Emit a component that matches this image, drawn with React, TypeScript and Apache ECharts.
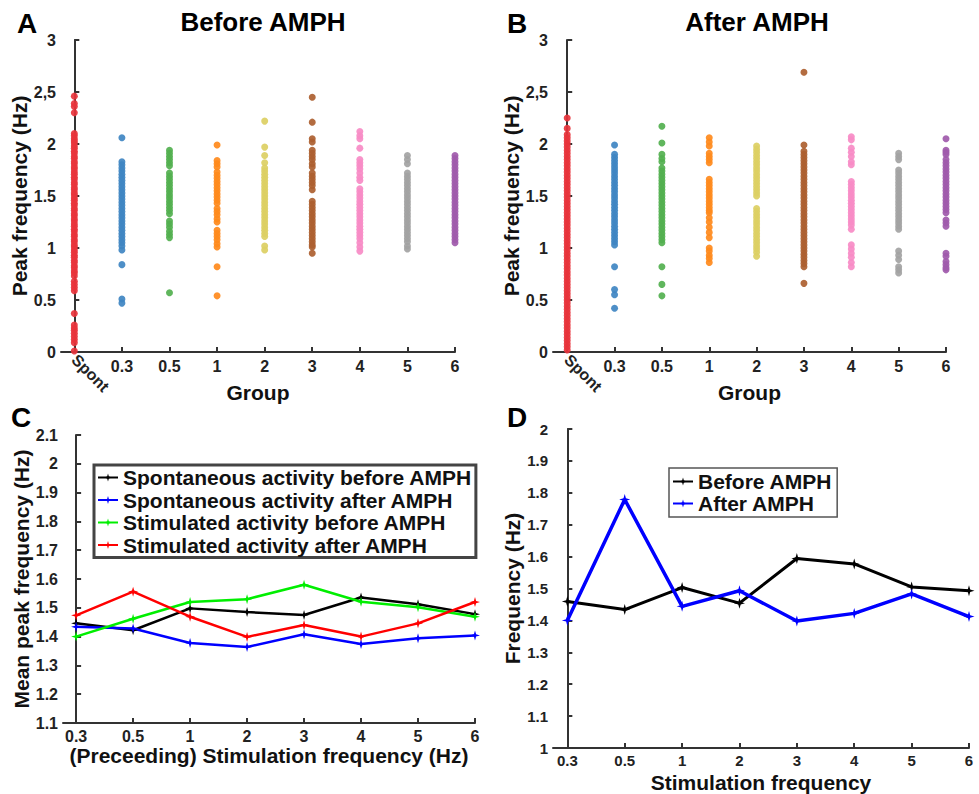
import React, { useEffect, useRef } from "react";
import * as echarts from "echarts";

// ---- Panel A / B (scatter) ----
const GROUPS = ["Spont", "0.3", "0.5", "1", "2", "3", "4", "5", "6"];
const GROUP_COLORS = ["#e8343c", "#3f86c2", "#52b04f", "#ff8a1c", "#dccf63", "#ad5f30", "#f78bc6", "#a3a3a3", "#a05aab"];

const A_SPONT = [2.46, 2.39, 2.36, 2.30, 2.10, 2.08, 2.05, 2.03, 2.01, 1.98, 1.96, 1.93, 1.91, 1.88, 1.86, 1.83, 1.81, 1.78, 1.76, 1.73, 1.71, 1.68, 1.66, 1.63, 1.61, 1.58, 1.56, 1.53, 1.51, 1.48, 1.46, 1.43, 1.41, 1.38, 1.36, 1.33, 1.31, 1.28, 1.26, 1.23, 1.21, 1.18, 1.16, 1.13, 1.11, 1.08, 1.06, 1.03, 1.01, 0.98, 0.96, 0.93, 0.91, 0.88, 0.86, 0.83, 0.81, 0.78, 0.76, 0.73, 0.68, 0.65, 0.62, 0.59, 0.37, 0.26, 0.23, 0.21, 0.18, 0.15, 0.12, 0.09, 0.01];
const A_03 = [2.06, 1.83, 1.80, 1.77, 1.74, 1.71, 1.68, 1.65, 1.62, 1.59, 1.56, 1.53, 1.50, 1.47, 1.44, 1.41, 1.38, 1.35, 1.32, 1.29, 1.26, 1.23, 1.20, 1.17, 1.14, 1.11, 1.08, 1.05, 1.02, 0.98, 0.84, 0.51, 0.47];
const A_05 = [1.94, 1.91, 1.88, 1.85, 1.82, 1.79, 1.72, 1.69, 1.66, 1.63, 1.60, 1.57, 1.54, 1.51, 1.48, 1.45, 1.42, 1.39, 1.36, 1.33, 1.26, 1.23, 1.20, 1.16, 1.13, 1.10, 0.57];
const A_1 = [1.99, 1.84, 1.81, 1.78, 1.73, 1.70, 1.67, 1.64, 1.61, 1.58, 1.55, 1.52, 1.49, 1.46, 1.43, 1.38, 1.35, 1.32, 1.28, 1.25, 1.17, 1.14, 1.11, 1.08, 1.04, 1.01, 0.82, 0.54];
const A_2 = [2.22, 1.97, 1.89, 1.82, 1.77, 1.74, 1.71, 1.68, 1.65, 1.62, 1.59, 1.56, 1.53, 1.50, 1.47, 1.44, 1.41, 1.38, 1.35, 1.32, 1.29, 1.26, 1.23, 1.20, 1.17, 1.14, 1.11, 1.02, 0.98];
const A_3 = [2.45, 2.21, 2.05, 2.02, 1.94, 1.91, 1.88, 1.85, 1.81, 1.78, 1.72, 1.69, 1.66, 1.63, 1.60, 1.56, 1.45, 1.42, 1.39, 1.36, 1.33, 1.30, 1.27, 1.24, 1.21, 1.18, 1.15, 1.12, 1.09, 1.06, 1.03, 1.01, 0.95];
const A_4 = [2.12, 2.08, 2.05, 1.96, 1.85, 1.82, 1.79, 1.76, 1.72, 1.68, 1.65, 1.57, 1.54, 1.51, 1.48, 1.45, 1.42, 1.39, 1.36, 1.33, 1.30, 1.27, 1.24, 1.21, 1.18, 1.15, 1.12, 1.09, 1.05, 1.01, 0.97];
const A_5 = [1.89, 1.85, 1.81, 1.72, 1.69, 1.66, 1.63, 1.60, 1.57, 1.54, 1.51, 1.48, 1.45, 1.42, 1.39, 1.36, 1.33, 1.30, 1.27, 1.24, 1.21, 1.18, 1.15, 1.12, 1.09, 1.06, 1.02, 0.99];
const A_6 = [1.89, 1.86, 1.83, 1.80, 1.77, 1.74, 1.71, 1.68, 1.65, 1.62, 1.59, 1.56, 1.53, 1.50, 1.47, 1.44, 1.41, 1.38, 1.35, 1.32, 1.29, 1.26, 1.23, 1.20, 1.17, 1.14, 1.11, 1.08, 1.05];

const B_SPONT = [2.25, 2.15, 2.09, 2.06, 2.03, 2.00, 1.97, 1.94, 1.91, 1.88, 1.85, 1.82, 1.79, 1.76, 1.73, 1.70, 1.67, 1.64, 1.61, 1.58, 1.55, 1.52, 1.49, 1.46, 1.43, 1.40, 1.37, 1.34, 1.31, 1.28, 1.25, 1.22, 1.19, 1.16, 1.13, 1.10, 1.07, 1.04, 1.01, 0.98, 0.95, 0.92, 0.89, 0.86, 0.83, 0.80, 0.77, 0.74, 0.71, 0.68, 0.65, 0.62, 0.59, 0.56, 0.53, 0.50, 0.47, 0.44, 0.41, 0.38, 0.35, 0.32, 0.29, 0.26, 0.23, 0.20, 0.17, 0.14, 0.11, 0.08, 0.05, 0.02];
const B_03 = [1.99, 1.90, 1.87, 1.84, 1.81, 1.78, 1.75, 1.72, 1.69, 1.66, 1.63, 1.60, 1.57, 1.54, 1.51, 1.48, 1.45, 1.42, 1.39, 1.36, 1.33, 1.30, 1.27, 1.24, 1.21, 1.18, 1.15, 1.12, 1.09, 1.06, 1.03, 0.82, 0.60, 0.55, 0.42];
const B_05 = [2.17, 2.01, 1.90, 1.86, 1.83, 1.77, 1.74, 1.71, 1.68, 1.65, 1.62, 1.59, 1.56, 1.53, 1.50, 1.47, 1.44, 1.41, 1.38, 1.35, 1.32, 1.29, 1.26, 1.23, 1.20, 1.17, 1.14, 1.11, 1.08, 1.05, 0.82, 0.65, 0.54];
const B_1 = [2.06, 2.02, 1.98, 1.91, 1.88, 1.85, 1.82, 1.66, 1.63, 1.60, 1.57, 1.54, 1.51, 1.48, 1.45, 1.42, 1.39, 1.36, 1.34, 1.29, 1.25, 1.20, 1.15, 1.10, 1.00, 0.97, 0.93, 0.90, 0.86];
const B_2 = [1.98, 1.95, 1.92, 1.89, 1.86, 1.83, 1.80, 1.77, 1.74, 1.71, 1.68, 1.65, 1.62, 1.59, 1.56, 1.53, 1.50, 1.38, 1.35, 1.32, 1.29, 1.26, 1.23, 1.20, 1.17, 1.14, 1.11, 1.08, 1.05, 1.02, 0.99, 0.96, 0.92];
const B_3 = [2.69, 1.99, 1.93, 1.90, 1.87, 1.84, 1.81, 1.78, 1.75, 1.72, 1.69, 1.66, 1.63, 1.60, 1.57, 1.54, 1.51, 1.48, 1.45, 1.42, 1.39, 1.36, 1.33, 1.30, 1.27, 1.24, 1.21, 1.18, 1.15, 1.12, 1.09, 1.06, 1.03, 1.00, 0.97, 0.94, 0.91, 0.88, 0.85, 0.82, 0.66];
const B_4 = [2.07, 2.04, 1.96, 1.92, 1.88, 1.83, 1.80, 1.64, 1.61, 1.58, 1.55, 1.52, 1.49, 1.46, 1.43, 1.40, 1.37, 1.34, 1.31, 1.28, 1.25, 1.22, 1.18, 1.03, 0.99, 0.95, 0.91, 0.86, 0.82];
const B_5 = [1.91, 1.88, 1.85, 1.75, 1.72, 1.69, 1.66, 1.63, 1.60, 1.57, 1.54, 1.51, 1.48, 1.45, 1.42, 1.39, 1.36, 1.33, 1.30, 1.27, 1.24, 1.21, 1.18, 0.97, 0.93, 0.89, 0.82, 0.79, 0.76];
const B_6 = [2.05, 1.94, 1.92, 1.90, 1.85, 1.82, 1.79, 1.76, 1.73, 1.70, 1.67, 1.64, 1.61, 1.58, 1.55, 1.52, 1.49, 1.46, 1.43, 1.40, 1.37, 1.34, 1.27, 1.24, 1.21, 0.95, 0.92, 0.87, 0.84, 0.81, 0.79];

const A_DATA = [A_SPONT, A_03, A_05, A_1, A_2, A_3, A_4, A_5, A_6];
const B_DATA = [B_SPONT, B_03, B_05, B_1, B_2, B_3, B_4, B_5, B_6];

// ---- Panel C ----
const STIM = ["0.3", "0.5", "1", "2", "3", "4", "5", "6"];
const C_NAMES = [
  "Spontaneous activity before AMPH",
  "Spontaneous activity after AMPH",
  "Stimulated activity before AMPH",
  "Stimulated activity after AMPH",
];
const C_COLORS = ["#000000", "#0000ff", "#00ee00", "#ff0000"];
const C_SPONT_BEFORE = [1.446, 1.422, 1.498, 1.485, 1.475, 1.536, 1.512, 1.478];
const C_SPONT_AFTER = [1.434, 1.428, 1.378, 1.364, 1.408, 1.374, 1.394, 1.404];
const C_STIM_BEFORE = [1.400, 1.462, 1.520, 1.530, 1.580, 1.521, 1.502, 1.469];
const C_STIM_AFTER = [1.474, 1.556, 1.469, 1.399, 1.440, 1.400, 1.446, 1.520];
const C_DATA = [C_SPONT_BEFORE, C_SPONT_AFTER, C_STIM_BEFORE, C_STIM_AFTER];

// ---- Panel D ----
const D_NAMES = ["Before AMPH", "After AMPH"];
const D_COLORS = ["#000000", "#0000ff"];
const D_BEFORE = [1.459, 1.434, 1.503, 1.454, 1.594, 1.577, 1.505, 1.493];
const D_AFTER = [1.400, 1.779, 1.444, 1.493, 1.398, 1.422, 1.483, 1.412];
const D_DATA = [D_BEFORE, D_AFTER];

const FONT = "Arial, 'Liberation Sans', Helvetica, sans-serif";
const AXIS_COLOR = "#333";
const STAR = "path://M5,0 L6.1,3.9 L10,5 L6.1,6.1 L5,10 L3.9,6.1 L0,5 L3.9,3.9 Z";

const labelStyle = { fontFamily: FONT, fontWeight: "bold", fontSize: 16, color: "#222" };
const nameStyle = { fontFamily: FONT, fontWeight: "bold", fontSize: 21, color: "#111" };

function round1(v: number) {
  return String(Math.round(v * 100) / 100);
}

export default function App() {
  const ref = useRef<HTMLDivElement>(null);
  useEffect(() => {
    if (!ref.current) return;
    const chart = echarts.init(ref.current, undefined, { renderer: "svg" });

    const grids = [
      { left: 61, top: 40, width: 394, height: 312 },
      { left: 553, top: 40, width: 393, height: 312 },
      { left: 63, top: 435, width: 412, height: 288 },
      { left: 553, top: 429, width: 416, height: 323 },
    ];

    const baseAxisLine = { show: true, lineStyle: { color: AXIS_COLOR, width: 2 } };
    const baseTick = { show: true, inside: true, length: 5, lineStyle: { color: AXIS_COLOR, width: 2 } };

    const groupIdx = GROUPS.map((_, i) => i);
    const stimIdx = STIM.map((_, i) => i);

    const abX = (gi: number, min: number) => [
      {
        type: "value", gridIndex: gi, position: "bottom", min, max: 8,
        axisLine: baseAxisLine,
        axisTick: { ...baseTick, customValues: groupIdx },
        splitLine: { show: false },
        axisLabel: { ...labelStyle, margin: 6, customValues: groupIdx.slice(1), formatter: (v: number) => GROUPS[Math.round(v)] },
        name: "Group", nameLocation: "middle", nameGap: 30, nameTextStyle: nameStyle,
      },
      {
        type: "value", gridIndex: gi, position: "bottom", min, max: 8,
        axisLine: { show: false }, axisTick: { show: false }, splitLine: { show: false },
        axisLabel: { ...labelStyle, margin: 5, rotate: -45, customValues: [0], formatter: (v: number) => GROUPS[Math.round(v)] },
      },
    ];

    const lineX = (gi: number, min: number, name: string, gap: number, fs: number) => ({
      type: "value", gridIndex: gi, position: "bottom", min, max: 7,
      axisLine: baseAxisLine,
      axisTick: { ...baseTick, customValues: stimIdx },
      splitLine: { show: false },
      axisLabel: { ...labelStyle, fontSize: fs, margin: 5, customValues: stimIdx, formatter: (v: number) => STIM[Math.round(v)] },
      name, nameLocation: "middle", nameGap: gap, nameTextStyle: nameStyle,
    });

    const yAx = (gi: number, min: number, max: number, interval: number, name: string, gap: number, fs: number, fmt: (v: number) => string) => ({
      type: "value", gridIndex: gi, min, max, interval,
      axisLine: baseAxisLine, axisTick: baseTick, splitLine: { show: false },
      axisLabel: { ...labelStyle, fontSize: fs, margin: 5, formatter: fmt },
      name, nameLocation: "middle", nameGap: gap, nameRotate: 90, nameTextStyle: nameStyle,
    });

    const abFmt = (v: number) => {
      const r = Math.round(v * 10) / 10;
      return r === 2.5 ? "2,5" : String(r);
    };

    const series: any[] = [];
    [A_DATA, B_DATA].forEach((panel, p) => {
      panel.forEach((vals, i) => {
        series.push({
          type: "scatter",
          name: (p === 0 ? "A " : "B ") + GROUPS[i],
          xAxisIndex: p * 2,
          yAxisIndex: p,
          symbolSize: 7,
          itemStyle: { color: GROUP_COLORS[i], opacity: 0.92 },
          data: vals.map((v) => [i, v]),
          z: 3,
        });
      });
    });
    C_DATA.forEach((vals, i) => {
      series.push({
        type: "line", name: C_NAMES[i], xAxisIndex: 4, yAxisIndex: 2,
        symbol: STAR, symbolSize: 10, showSymbol: true,
        lineStyle: { color: C_COLORS[i], width: 2.5 },
        itemStyle: { color: C_COLORS[i] },
        data: vals.map((v, k) => [k, v]),
      });
    });
    D_DATA.forEach((vals, i) => {
      series.push({
        type: "line", name: D_NAMES[i], xAxisIndex: 5, yAxisIndex: 3,
        symbol: STAR, symbolSize: 11, showSymbol: true,
        lineStyle: { color: D_COLORS[i], width: i === 1 ? 3.5 : 3 },
        itemStyle: { color: D_COLORS[i] },
        data: vals.map((v, k) => [k, v]),
      });
    });

    const legendText = { fontFamily: FONT, fontWeight: "bold", fontSize: 21, color: "#111", lineHeight: 20 };

    const option: any = {
      animation: false,
      backgroundColor: "#fff",
      grid: grids,
      xAxis: [
        ...abX(0, -0.28),
        ...abX(1, -0.3),
        lineX(2, -0.23, "(Preceeding) Stimulation frequency (Hz)", 22, 16),
        lineX(3, -0.25, "Stimulation frequency", 24, 15),
      ],
      yAxis: [
        yAx(0, 0, 3, 0.5, "Peak frequency (Hz)", 29, 16, abFmt),
        yAx(1, 0, 3, 0.5, "Peak frequency (Hz)", 29, 16, abFmt),
        yAx(2, 1.1, 2.1, 0.1, "Mean peak frequency (Hz)", 31, 16, round1),
        yAx(3, 1.0, 2.0, 0.1, "Frequency (Hz)", 30, 15, round1),
      ],
      legend: [
        {
          data: C_NAMES, orient: "vertical", left: 94, top: 465,
          borderColor: "#444", borderWidth: 3, padding: [2, 4, 2, 3], itemGap: 1.5,
          itemWidth: 20, itemHeight: 10, textStyle: legendText, backgroundColor: "#fff",
        },
        {
          data: D_NAMES, orient: "vertical", left: 669, top: 468,
          borderColor: "#555", borderWidth: 1.5, padding: [3, 5, 3, 3], itemGap: 1,
          itemWidth: 20, itemHeight: 10, textStyle: legendText, backgroundColor: "#fff",
        },
      ],
      graphic: [
        { type: "text", x: 17, y: 23, style: { text: "A", font: `bold 28px ${FONT}`, fill: "#000", verticalAlign: "middle" } },
        { type: "text", x: 507, y: 23, style: { text: "B", font: `bold 28px ${FONT}`, fill: "#000", verticalAlign: "middle" } },
        { type: "text", x: 11, y: 417, style: { text: "C", font: `bold 28px ${FONT}`, fill: "#000", verticalAlign: "middle" } },
        { type: "text", x: 507, y: 417, style: { text: "D", font: `bold 28px ${FONT}`, fill: "#000", verticalAlign: "middle" } },
        { type: "text", x: 263, y: 22, style: { text: "Before AMPH", font: `bold 26px ${FONT}`, fill: "#000", align: "center", verticalAlign: "middle" } },
        { type: "text", x: 757, y: 22, style: { text: "After AMPH", font: `bold 26px ${FONT}`, fill: "#000", align: "center", verticalAlign: "middle" } },
      ],
      series,
    };
    chart.setOption(option);
    return () => chart.dispose();
  }, []);
  return <div ref={ref} style={{ position: "fixed", left: 0, top: 0, width: 979, height: 794, background: "#fff" }} />;
}
